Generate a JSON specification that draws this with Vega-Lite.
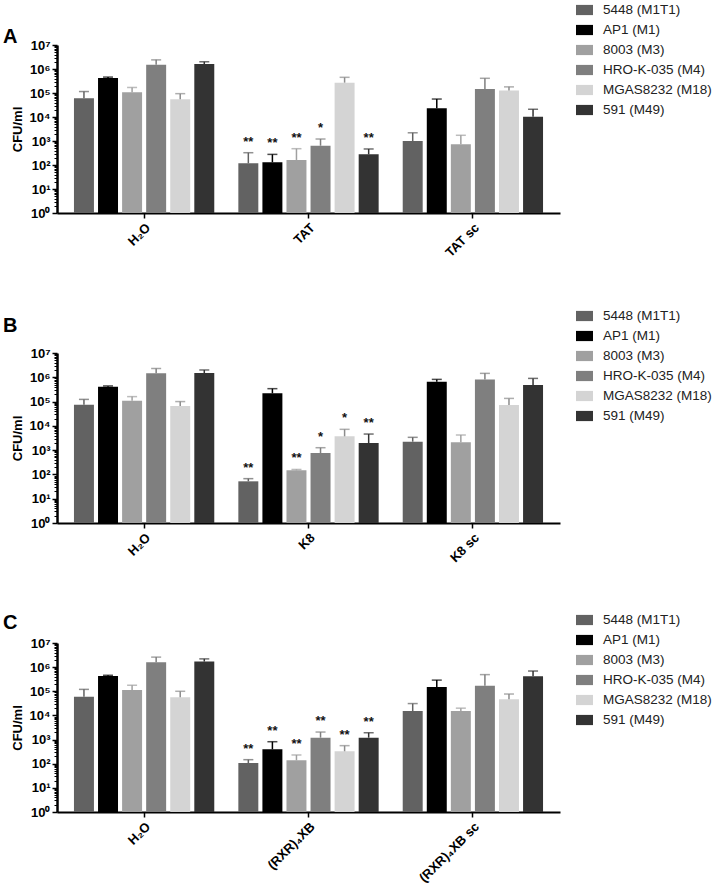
{
  "$schema": "https://vega.github.io/schema/vega-lite/v6.json",
  "autosize": {"type": "pad"},
  "padding": {"left": 3, "top": 1, "right": 0, "bottom": 0},
  "config": {
    "font": "Liberation Sans",
    "view": {"stroke": null},
    "axis": {"domainColor": "#000000", "tickColor": "#000000", "labelColor": "#000000", "titleColor": "#000000", "grid": false},
    "title": {"font": "Liberation Sans"},
    "legend": {"labelFont": "Liberation Sans"}
  },
  "datasets": {
    "A": [
      {"treatment": "H₂O", "strain": "5448 (M1T1)", "cfu": 60000, "err": 115000, "sig": ""},
      {"treatment": "H₂O", "strain": "AP1 (M1)", "cfu": 420000, "err": 460000, "sig": ""},
      {"treatment": "H₂O", "strain": "8003 (M3)", "cfu": 107000, "err": 170000, "sig": ""},
      {"treatment": "H₂O", "strain": "HRO-K-035 (M4)", "cfu": 1500000, "err": 2400000, "sig": ""},
      {"treatment": "H₂O", "strain": "MGAS8232 (M18)", "cfu": 55000, "err": 94000, "sig": ""},
      {"treatment": "H₂O", "strain": "591 (M49)", "cfu": 1600000, "err": 2000000, "sig": ""},
      {"treatment": "TAT", "strain": "5448 (M1T1)", "cfu": 118, "err": 325, "sig": "**"},
      {"treatment": "TAT", "strain": "AP1 (M1)", "cfu": 130, "err": 277, "sig": "**"},
      {"treatment": "TAT", "strain": "8003 (M3)", "cfu": 162, "err": 478, "sig": "**"},
      {"treatment": "TAT", "strain": "HRO-K-035 (M4)", "cfu": 637, "err": 1210, "sig": "*"},
      {"treatment": "TAT", "strain": "MGAS8232 (M18)", "cfu": 270000, "err": 450000, "sig": ""},
      {"treatment": "TAT", "strain": "591 (M49)", "cfu": 278, "err": 465, "sig": "**"},
      {"treatment": "TAT sc", "strain": "5448 (M1T1)", "cfu": 1000, "err": 2200, "sig": ""},
      {"treatment": "TAT sc", "strain": "AP1 (M1)", "cfu": 23000, "err": 56000, "sig": ""},
      {"treatment": "TAT sc", "strain": "8003 (M3)", "cfu": 725, "err": 1730, "sig": ""},
      {"treatment": "TAT sc", "strain": "HRO-K-035 (M4)", "cfu": 147000, "err": 410000, "sig": ""},
      {"treatment": "TAT sc", "strain": "MGAS8232 (M18)", "cfu": 126000, "err": 180000, "sig": ""},
      {"treatment": "TAT sc", "strain": "591 (M49)", "cfu": 10300, "err": 21000, "sig": ""}
    ],
    "B": [
      {"treatment": "H₂O", "strain": "5448 (M1T1)", "cfu": 74000, "err": 123000, "sig": ""},
      {"treatment": "H₂O", "strain": "AP1 (M1)", "cfu": 410000, "err": 440000, "sig": ""},
      {"treatment": "H₂O", "strain": "8003 (M3)", "cfu": 107000, "err": 160000, "sig": ""},
      {"treatment": "H₂O", "strain": "HRO-K-035 (M4)", "cfu": 1450000, "err": 2300000, "sig": ""},
      {"treatment": "H₂O", "strain": "MGAS8232 (M18)", "cfu": 65000, "err": 100000, "sig": ""},
      {"treatment": "H₂O", "strain": "591 (M49)", "cfu": 1500000, "err": 2000000, "sig": ""},
      {"treatment": "K8", "strain": "5448 (M1T1)", "cfu": 52, "err": 67, "sig": "**"},
      {"treatment": "K8", "strain": "AP1 (M1)", "cfu": 220000, "err": 340000, "sig": ""},
      {"treatment": "K8", "strain": "8003 (M3)", "cfu": 147, "err": 160, "sig": "**"},
      {"treatment": "K8", "strain": "HRO-K-035 (M4)", "cfu": 760, "err": 1260, "sig": "*"},
      {"treatment": "K8", "strain": "MGAS8232 (M18)", "cfu": 3700, "err": 7200, "sig": "*"},
      {"treatment": "K8", "strain": "591 (M49)", "cfu": 1960, "err": 4600, "sig": "**"},
      {"treatment": "K8 sc", "strain": "5448 (M1T1)", "cfu": 2230, "err": 3370, "sig": ""},
      {"treatment": "K8 sc", "strain": "AP1 (M1)", "cfu": 650000, "err": 820000, "sig": ""},
      {"treatment": "K8 sc", "strain": "8003 (M3)", "cfu": 2100, "err": 4200, "sig": ""},
      {"treatment": "K8 sc", "strain": "HRO-K-035 (M4)", "cfu": 820000, "err": 1450000, "sig": ""},
      {"treatment": "K8 sc", "strain": "MGAS8232 (M18)", "cfu": 72000, "err": 135000, "sig": ""},
      {"treatment": "K8 sc", "strain": "591 (M49)", "cfu": 480000, "err": 900000, "sig": ""}
    ],
    "C": [
      {"treatment": "H₂O", "strain": "5448 (M1T1)", "cfu": 60000, "err": 120000, "sig": ""},
      {"treatment": "H₂O", "strain": "AP1 (M1)", "cfu": 430000, "err": 460000, "sig": ""},
      {"treatment": "H₂O", "strain": "8003 (M3)", "cfu": 113000, "err": 178000, "sig": ""},
      {"treatment": "H₂O", "strain": "HRO-K-035 (M4)", "cfu": 1600000, "err": 2600000, "sig": ""},
      {"treatment": "H₂O", "strain": "MGAS8232 (M18)", "cfu": 56000, "err": 100000, "sig": ""},
      {"treatment": "H₂O", "strain": "591 (M49)", "cfu": 1700000, "err": 2200000, "sig": ""},
      {"treatment": "(RXR)₄XB", "strain": "5448 (M1T1)", "cfu": 107, "err": 147, "sig": "**"},
      {"treatment": "(RXR)₄XB", "strain": "AP1 (M1)", "cfu": 395, "err": 815, "sig": "**"},
      {"treatment": "(RXR)₄XB", "strain": "8003 (M3)", "cfu": 138, "err": 230, "sig": "**"},
      {"treatment": "(RXR)₄XB", "strain": "HRO-K-035 (M4)", "cfu": 1200, "err": 2050, "sig": "**"},
      {"treatment": "(RXR)₄XB", "strain": "MGAS8232 (M18)", "cfu": 327, "err": 560, "sig": "**"},
      {"treatment": "(RXR)₄XB", "strain": "591 (M49)", "cfu": 1200, "err": 1920, "sig": "**"},
      {"treatment": "(RXR)₄XB sc", "strain": "5448 (M1T1)", "cfu": 15200, "err": 31000, "sig": ""},
      {"treatment": "(RXR)₄XB sc", "strain": "AP1 (M1)", "cfu": 150000, "err": 290000, "sig": ""},
      {"treatment": "(RXR)₄XB sc", "strain": "8003 (M3)", "cfu": 15200, "err": 20000, "sig": ""},
      {"treatment": "(RXR)₄XB sc", "strain": "HRO-K-035 (M4)", "cfu": 170000, "err": 490000, "sig": ""},
      {"treatment": "(RXR)₄XB sc", "strain": "MGAS8232 (M18)", "cfu": 47000, "err": 77000, "sig": ""},
      {"treatment": "(RXR)₄XB sc", "strain": "591 (M49)", "cfu": 420000, "err": 690000, "sig": ""}
    ]
  },
  "spacing": 140,
  "bounds": "flush",
  "resolve": {"legend": {"color": "independent"}},
  "vconcat": [
    {
      "data": {"name": "A"},
      "width": 503,
      "height": 168,
      "title": {"text": "A", "anchor": "start", "frame": "group", "fontSize": 20, "fontWeight": "bold", "dx": -54, "offset": 0, "dy": 45.5},
      "encoding": {
        "x": {"field": "treatment", "type": "nominal", "sort": ["H₂O", "TAT", "TAT sc"], "scale": {"paddingInner": 0, "paddingOuter": 0.03},
          "axis": {"title": null, "labelAngle": -45, "labelFontSize": 13, "labelFontWeight": "bold", "tickSize": 5, "tickWidth": 1.5, "domainWidth": 2, "labelPadding": 3}},
        "xOffset": {"field": "strain", "type": "nominal", "sort": ["5448 (M1T1)", "AP1 (M1)", "8003 (M3)", "HRO-K-035 (M4)", "MGAS8232 (M18)", "591 (M49)"], "scale": {"paddingInner": 0.17, "paddingOuter": 0.5}}
      },
      "layer": [
        {
          "mark": {"type": "bar"},
          "encoding": {
            "y": {"field": "cfu", "type": "quantitative", "stack": null, "scale": {"type": "log", "domain": [1, 10000000]},
              "axis": {"values": [1, 10, 100, 1000, 10000, 100000, 1000000, 10000000], "labelExpr": "'10' + ['⁰','¹','²','³','⁴','⁵','⁶','⁷'][round(log(datum.value)/LN10)]", "title": "CFU/ml", "titleFontSize": 13, "titleFontWeight": "bold", "titlePadding": 5, "labelFontSize": 13, "labelFontWeight": "bold", "tickSize": 5, "tickWidth": 1.5, "domainWidth": 2.5, "labelPadding": 2}},
            "color": {"field": "strain", "type": "nominal", "sort": ["5448 (M1T1)", "AP1 (M1)", "8003 (M3)", "HRO-K-035 (M4)", "MGAS8232 (M18)", "591 (M49)"],
              "scale": {"domain": ["5448 (M1T1)", "AP1 (M1)", "8003 (M3)", "HRO-K-035 (M4)", "MGAS8232 (M18)", "591 (M49)"], "range": ["#626262", "#000000", "#a0a0a0", "#7f7f7f", "#d4d4d4", "#333333"]},
              "legend": {"orient": "none", "legendX": 519, "legendY": -43.5, "title": null, "symbolType": "M-1,-0.6H1V0.6H-1Z", "symbolSize": 289, "symbolStrokeWidth": 0, "symbolOpacity": 1, "labelFontSize": 13.5, "labelColor": "#222222", "rowPadding": 5, "labelOffset": 10, "padding": 0}}
          }
        },
        {
          "mark": {"type": "rule", "strokeWidth": 1.5},
          "encoding": {
            "y": {"field": "cfu", "type": "quantitative",
              "axis": {"orient": "left", "title": null, "labels": false, "domain": false, "tickSize": 3, "tickWidth": 1, "values": [2,3,4,5,6,7,8,9,20,30,40,50,60,70,80,90,200,300,400,500,600,700,800,900,2000,3000,4000,5000,6000,7000,8000,9000,20000,30000,40000,50000,60000,70000,80000,90000,200000,300000,400000,500000,600000,700000,800000,900000,2000000,3000000,4000000,5000000,6000000,7000000,8000000,9000000]}},
            "y2": {"field": "err"},
            "color": {"condition": {"test": "datum.strain === 'MGAS8232 (M18)'", "value": "#8c8c8c"}, "field": "strain", "type": "nominal", "legend": null}
          }
        },
        {
          "mark": {"type": "tick", "thickness": 1.5, "size": 10},
          "encoding": {
            "y": {"field": "err", "type": "quantitative", "axis": null},
            "color": {"condition": {"test": "datum.strain === 'MGAS8232 (M18)'", "value": "#8c8c8c"}, "field": "strain", "type": "nominal", "legend": null}
          }
        },
        {
          "mark": {"type": "text", "baseline": "bottom", "dy": -4, "fontSize": 13, "fontWeight": "bold", "color": "#111111"},
          "encoding": {
            "y": {"field": "err", "type": "quantitative", "axis": null},
            "text": {"field": "sig"}
          }
        }
      ],
      "resolve": {"axis": {"y": "independent"}}
    },
    {
      "spacing": 120,
      "bounds": "flush",
      "resolve": {"legend": {"color": "independent"}},
      "vconcat": [
        {
          "data": {"name": "B"},
          "width": 503,
          "height": 170,
          "title": {"text": "B", "anchor": "start", "frame": "group", "fontSize": 20, "fontWeight": "bold", "dx": -54, "offset": 0, "dy": 28.5},
          "encoding": {
            "x": {"field": "treatment", "type": "nominal", "sort": ["H₂O", "K8", "K8 sc"], "scale": {"paddingInner": 0, "paddingOuter": 0.03},
              "axis": {"title": null, "labelAngle": -45, "labelFontSize": 13, "labelFontWeight": "bold", "tickSize": 5, "tickWidth": 1.5, "domainWidth": 2, "labelPadding": 3}},
            "xOffset": {"field": "strain", "type": "nominal", "sort": ["5448 (M1T1)", "AP1 (M1)", "8003 (M3)", "HRO-K-035 (M4)", "MGAS8232 (M18)", "591 (M49)"], "scale": {"paddingInner": 0.17, "paddingOuter": 0.5}}
          },
          "layer": [
            {
              "mark": {"type": "bar"},
              "encoding": {
                "y": {"field": "cfu", "type": "quantitative", "stack": null, "scale": {"type": "log", "domain": [1, 10000000]},
                  "axis": {"values": [1, 10, 100, 1000, 10000, 100000, 1000000, 10000000], "labelExpr": "'10' + ['⁰','¹','²','³','⁴','⁵','⁶','⁷'][round(log(datum.value)/LN10)]", "title": "CFU/ml", "titleFontSize": 13, "titleFontWeight": "bold", "titlePadding": 5, "labelFontSize": 13, "labelFontWeight": "bold", "tickSize": 5, "tickWidth": 1.5, "domainWidth": 2.5, "labelPadding": 2}},
                "color": {"field": "strain", "type": "nominal", "sort": ["5448 (M1T1)", "AP1 (M1)", "8003 (M3)", "HRO-K-035 (M4)", "MGAS8232 (M18)", "591 (M49)"],
                  "scale": {"domain": ["5448 (M1T1)", "AP1 (M1)", "8003 (M3)", "HRO-K-035 (M4)", "MGAS8232 (M18)", "591 (M49)"], "range": ["#626262", "#000000", "#a0a0a0", "#7f7f7f", "#d4d4d4", "#333333"]},
                  "legend": {"orient": "none", "legendX": 519, "legendY": -45.5, "title": null, "symbolType": "M-1,-0.6H1V0.6H-1Z", "symbolSize": 289, "symbolStrokeWidth": 0, "symbolOpacity": 1, "labelFontSize": 13.5, "labelColor": "#222222", "rowPadding": 5, "labelOffset": 10, "padding": 0}}
              }
            },
            {
              "mark": {"type": "rule", "strokeWidth": 1.5},
              "encoding": {
                "y": {"field": "cfu", "type": "quantitative",
                  "axis": {"orient": "left", "title": null, "labels": false, "domain": false, "tickSize": 3, "tickWidth": 1, "values": [2,3,4,5,6,7,8,9,20,30,40,50,60,70,80,90,200,300,400,500,600,700,800,900,2000,3000,4000,5000,6000,7000,8000,9000,20000,30000,40000,50000,60000,70000,80000,90000,200000,300000,400000,500000,600000,700000,800000,900000,2000000,3000000,4000000,5000000,6000000,7000000,8000000,9000000]}},
                "y2": {"field": "err"},
                "color": {"condition": {"test": "datum.strain === 'MGAS8232 (M18)'", "value": "#8c8c8c"}, "field": "strain", "type": "nominal", "legend": null}
              }
            },
            {
              "mark": {"type": "tick", "thickness": 1.5, "size": 10},
              "encoding": {
                "y": {"field": "err", "type": "quantitative", "axis": null},
                "color": {"condition": {"test": "datum.strain === 'MGAS8232 (M18)'", "value": "#8c8c8c"}, "field": "strain", "type": "nominal", "legend": null}
              }
            },
            {
              "mark": {"type": "text", "baseline": "bottom", "dy": -4, "fontSize": 13, "fontWeight": "bold", "color": "#111111"},
              "encoding": {
                "y": {"field": "err", "type": "quantitative", "axis": null},
                "text": {"field": "sig"}
              }
            }
          ],
          "resolve": {"axis": {"y": "independent"}}
        },
        {
          "data": {"name": "C"},
          "width": 503,
          "height": 169,
          "title": {"text": "C", "anchor": "start", "frame": "group", "fontSize": 20, "fontWeight": "bold", "dx": -54, "offset": 0, "dy": 21.5},
          "encoding": {
            "x": {"field": "treatment", "type": "nominal", "sort": ["H₂O", "(RXR)₄XB", "(RXR)₄XB sc"], "scale": {"paddingInner": 0, "paddingOuter": 0.03},
              "axis": {"title": null, "labelAngle": -45, "labelFontSize": 13, "labelFontWeight": "bold", "tickSize": 5, "tickWidth": 1.5, "domainWidth": 2, "labelPadding": 3}},
            "xOffset": {"field": "strain", "type": "nominal", "sort": ["5448 (M1T1)", "AP1 (M1)", "8003 (M3)", "HRO-K-035 (M4)", "MGAS8232 (M18)", "591 (M49)"], "scale": {"paddingInner": 0.17, "paddingOuter": 0.5}}
          },
          "layer": [
            {
              "mark": {"type": "bar"},
              "encoding": {
                "y": {"field": "cfu", "type": "quantitative", "stack": null, "scale": {"type": "log", "domain": [1, 10000000]},
                  "axis": {"values": [1, 10, 100, 1000, 10000, 100000, 1000000, 10000000], "labelExpr": "'10' + ['⁰','¹','²','³','⁴','⁵','⁶','⁷'][round(log(datum.value)/LN10)]", "title": "CFU/ml", "titleFontSize": 13, "titleFontWeight": "bold", "titlePadding": 5, "labelFontSize": 13, "labelFontWeight": "bold", "tickSize": 5, "tickWidth": 1.5, "domainWidth": 2.5, "labelPadding": 2}},
                "color": {"field": "strain", "type": "nominal", "sort": ["5448 (M1T1)", "AP1 (M1)", "8003 (M3)", "HRO-K-035 (M4)", "MGAS8232 (M18)", "591 (M49)"],
                  "scale": {"domain": ["5448 (M1T1)", "AP1 (M1)", "8003 (M3)", "HRO-K-035 (M4)", "MGAS8232 (M18)", "591 (M49)"], "range": ["#626262", "#000000", "#a0a0a0", "#7f7f7f", "#d4d4d4", "#333333"]},
                  "legend": {"orient": "none", "legendX": 519, "legendY": -31.5, "title": null, "symbolType": "M-1,-0.6H1V0.6H-1Z", "symbolSize": 289, "symbolStrokeWidth": 0, "symbolOpacity": 1, "labelFontSize": 13.5, "labelColor": "#222222", "rowPadding": 5, "labelOffset": 10, "padding": 0}}
              }
            },
            {
              "mark": {"type": "rule", "strokeWidth": 1.5},
              "encoding": {
                "y": {"field": "cfu", "type": "quantitative",
                  "axis": {"orient": "left", "title": null, "labels": false, "domain": false, "tickSize": 3, "tickWidth": 1, "values": [2,3,4,5,6,7,8,9,20,30,40,50,60,70,80,90,200,300,400,500,600,700,800,900,2000,3000,4000,5000,6000,7000,8000,9000,20000,30000,40000,50000,60000,70000,80000,90000,200000,300000,400000,500000,600000,700000,800000,900000,2000000,3000000,4000000,5000000,6000000,7000000,8000000,9000000]}},
                "y2": {"field": "err"},
                "color": {"condition": {"test": "datum.strain === 'MGAS8232 (M18)'", "value": "#8c8c8c"}, "field": "strain", "type": "nominal", "legend": null}
              }
            },
            {
              "mark": {"type": "tick", "thickness": 1.5, "size": 10},
              "encoding": {
                "y": {"field": "err", "type": "quantitative", "axis": null},
                "color": {"condition": {"test": "datum.strain === 'MGAS8232 (M18)'", "value": "#8c8c8c"}, "field": "strain", "type": "nominal", "legend": null}
              }
            },
            {
              "mark": {"type": "text", "baseline": "bottom", "dy": -4, "fontSize": 13, "fontWeight": "bold", "color": "#111111"},
              "encoding": {
                "y": {"field": "err", "type": "quantitative", "axis": null},
                "text": {"field": "sig"}
              }
            }
          ],
          "resolve": {"axis": {"y": "independent"}}
        }
      ]
    }
  ]
}
